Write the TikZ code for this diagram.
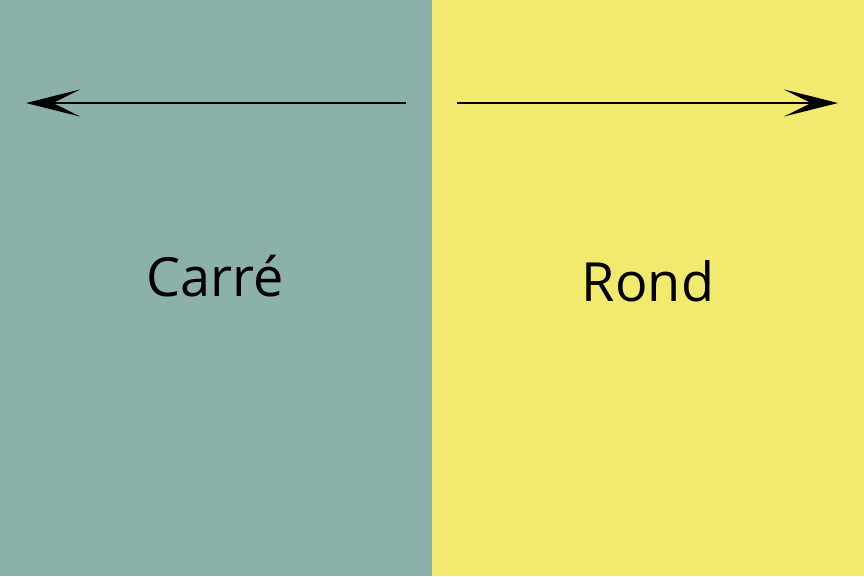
\documentclass[tikz,border=0pt]{standalone}
\usepackage{fontspec}
\setmainfont{Open Sans}
\usetikzlibrary{arrows.meta}
\definecolor{leftc}{HTML}{8CB0AA}
\definecolor{rightc}{HTML}{F2EA6E}
\begin{document}
\begin{tikzpicture}[x=1pt,y=-1pt,
  arr/.style={line width=2.4pt,-{Stealth[length=54pt,width=27pt,inset=27pt]}},
  lbl/.style={font=\fontsize{54}{58}\selectfont, anchor=base, inner sep=0pt}]
\useasboundingbox (0,0) rectangle (864,576);
\fill[leftc] (0,0) rectangle (432,576);
\fill[rightc] (432,0) rectangle (864,576);
\coordinate (ls) at (406,103);
\coordinate (le) at (26,103);
\coordinate (rs) at (457,103);
\coordinate (re) at (838,103);
\draw[arr] (ls) -- (le);
\draw[arr] (rs) -- (re);
\node[lbl] (carre) at (215,296) {Carré};
\node[lbl] (rond) at (648,301) {Rond};
\end{tikzpicture}
\end{document}
